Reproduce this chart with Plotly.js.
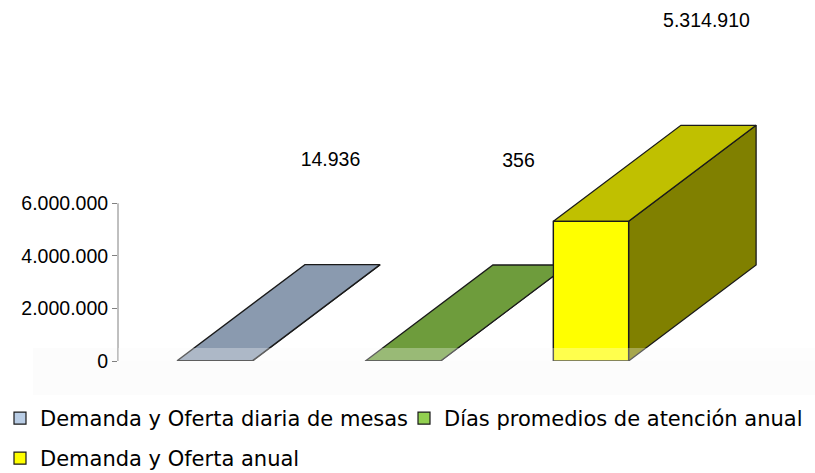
<!DOCTYPE html>
<html>
<head>
<meta charset="utf-8">
<script src="https://cdn.plot.ly/plotly-3.0.1.min.js"></script>
<style>html,body{margin:0;padding:0;background:#fff;}#chart{width:815px;height:473px;}</style>
</head>
<body>
<div id="chart"></div>
<script>
// ---- data ----
const seriesNames = ['Demanda y Oferta diaria de mesas', 'Días promedios de atención anual', 'Demanda y Oferta anual'];
const seriesValues = [14936, 356, 5314910];
const tickValues = [0, 2000000, 4000000, 6000000];
const frontColors = ['#B9CDE5', '#92D050', '#FFFF00'];
const topColors = ['#8A9AAF', '#6E9C3C', '#C0C000'];
const sideColors = ['#5C6673', '#497E28', '#808000'];

// ---- geometry (pixels -> data units) ----
const W = 815, H = 473;
const M = {l: 118, r: 0, t: 5, b: 112};
const plotW = W - M.l - M.r, plotH = H - M.t - M.b;
const pxPerX = 188;                 // spacing between bars
const pxPerY = 157.7 / 6000000;     // y scale
const XMIN = -(215 - M.l) / pxPerX;
const XMAX = XMIN + plotW / pxPerX;
const YMAX = plotH / pxPerY;
const BAR_W = 0.4;
const DX = 127.5 / pxPerX;          // depth offset, x
const DY = 96 / pxPerY;             // depth offset, y
const LABEL_OFF = 103 / pxPerY;
const LABEL_DX = -12 / pxPerX;
const FLOOR = 13 / pxPerY;

const edge = {color: '#1a1a1a', width: 1.3};
const legendIds = ['legend', 'legend3', 'legend2'];
const traces = [];

// legend-carrying bars (front faces)
seriesNames.forEach((name, i) => {
  traces.push({
    type: 'bar', x: [i], y: [seriesValues[i]], width: BAR_W, name: name,
    marker: {color: frontColors[i], line: {color: '#1a1a1a', width: 1.2}},
    legend: legendIds[i], hoverinfo: 'skip', textposition: 'none'
  });
});

// 3D faces, drawn back to front
seriesValues.forEach((v, i) => {
  const x0 = i - BAR_W / 2, x1 = i + BAR_W / 2;
  traces.push({
    type: 'scatter', mode: 'lines', fill: 'toself', showlegend: false, hoverinfo: 'skip',
    x: [x1, x1 + DX, x1 + DX, x1, x1], y: [0, DY, v + DY, v, 0],
    fillcolor: sideColors[i], line: edge
  });
  traces.push({
    type: 'scatter', mode: 'lines', fill: 'toself', showlegend: false, hoverinfo: 'skip',
    x: [x0, x1, x1 + DX, x0 + DX, x0], y: [v, v, v + DY, v + DY, v],
    fillcolor: topColors[i], line: edge
  });
  traces.push({
    type: 'scatter', mode: 'lines', fill: 'toself', showlegend: false, hoverinfo: 'skip',
    x: [x0, x1, x1, x0, x0], y: [0, 0, v, v, 0],
    fillcolor: frontColors[i], line: edge
  });
});

// data labels
traces.push({
  type: 'scatter', mode: 'text', showlegend: false, hoverinfo: 'skip', cliponaxis: false,
  x: seriesValues.map((v, i) => i + DX + LABEL_DX),
  y: seriesValues.map(v => v + DY + LABEL_OFF),
  customdata: seriesValues,
  texttemplate: '%{customdata:,.0f}',
  textposition: 'middle center',
  textfont: {family: 'Liberation Sans, Arial, sans-serif', size: 19.5, color: '#000'}
});

const legendFont = {family: 'DejaVu Sans, sans-serif', size: 21, color: '#000'};
function legendAt(px, top) {
  return {
    orientation: 'h', xref: 'container', yref: 'container',
    x: px / W, y: 1 - top / H, xanchor: 'left', yanchor: 'top',
    font: legendFont, itemwidth: 30, bgcolor: 'rgba(0,0,0,0)'
  };
}

const layout = {
  width: W, height: H, margin: M,
  paper_bgcolor: '#fff', plot_bgcolor: 'rgba(0,0,0,0)',
  separators: ',.',
  showlegend: true,
  font: {family: 'Liberation Sans, Arial, sans-serif', color: '#000'},
  xaxis: {range: [XMIN, XMAX], visible: false, fixedrange: true},
  yaxis: {
    range: [0, YMAX], tickvals: tickValues, tickformat: ',.0f',
    showgrid: false, zeroline: false, showline: false,
    ticks: 'outside', ticklen: 5, tickcolor: '#808080', tickwidth: 1,
    tickfont: {family: 'Liberation Sans, Arial, sans-serif', size: 19.5, color: '#000'},
    fixedrange: true
  },
  legend: legendAt(-8, 398),
  legend3: legendAt(404, 398),
  legend2: legendAt(-8, 438),
  shapes: [
    // faint floor
    {type: 'rect', xref: 'paper', yref: 'paper', layer: 'below',
     x0: (33 - M.l) / plotW, x1: 1, y0: -34 / plotH, y1: FLOOR / YMAX,
     fillcolor: '#FCFCFC', line: {width: 0}},
    // value axis line (0 .. 6.000.000)
    {type: 'line', xref: 'paper', yref: 'y', x0: 0, x1: 0, y0: tickValues[0], y1: tickValues[tickValues.length - 1],
     line: {color: '#808080', width: 1}},
    // translucent floor band over the bars
    {type: 'rect', xref: 'paper', yref: 'paper', layer: 'above',
     x0: 0, x1: 1, y0: 0, y1: FLOOR / YMAX,
     fillcolor: 'rgba(255,255,255,0.3)', line: {width: 0}}
  ]
};

Plotly.newPlot('chart', traces, layout, {displayModeBar: false, staticPlot: true});
</script>
</body>
</html>
